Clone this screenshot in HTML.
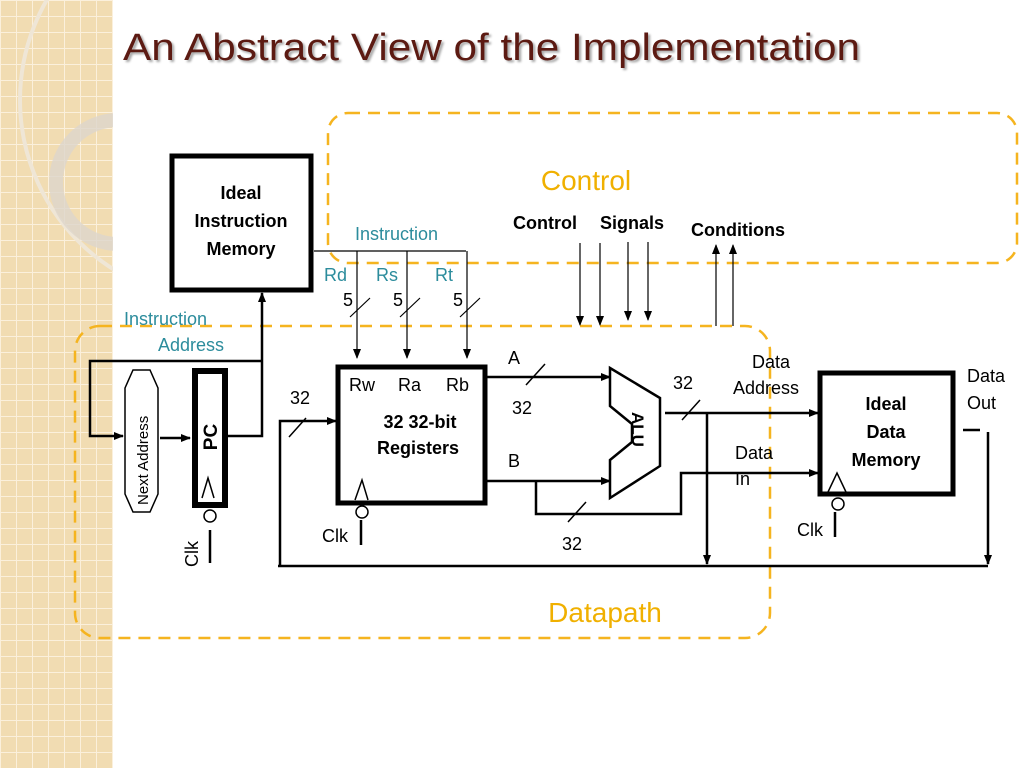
<!DOCTYPE html>
<html><head><meta charset="utf-8"><style>
body{margin:0;width:1024px;height:768px;overflow:hidden;background:#fff;font-family:"Liberation Sans",sans-serif}
</style></head><body>
<svg width="1024" height="768" viewBox="0 0 1024 768" xmlns="http://www.w3.org/2000/svg">
<defs>
<pattern id="g" width="16" height="16" patternUnits="userSpaceOnUse">
<rect width="16" height="16" fill="#f1dcb2"/><path d="M0 0H16M0 0V16" stroke="#fbf0dc" stroke-width="2"/></pattern>
<marker id="a" markerWidth="10" markerHeight="10" refX="9" refY="5" orient="auto" markerUnits="userSpaceOnUse"><path d="M0,1 L10,5 L0,9Z" fill="#000"/></marker>
</defs>
<rect x="0" y="0" width="113" height="768" fill="url(#g)"/>
<circle cx="220" cy="100" r="200" fill="none" stroke="#efe6d6" stroke-width="4"/>
<circle cx="118" cy="182" r="62" fill="none" stroke="#ddd6cc" stroke-width="14" opacity="0.8"/>
<rect x="113" y="0" width="911" height="768" fill="#fff"/>
<text x="123" y="60" font-size="38" fill="#5c1a12" textLength="737" lengthAdjust="spacingAndGlyphs" style="text-shadow:2px 2px 2px #aaa">An Abstract View of the Implementation</text>

<g fill="none" stroke="#f5b41f" stroke-width="2.5" stroke-dasharray="12,8">
<rect x="328" y="113" width="689" height="150" rx="20"/>
<rect x="75" y="326" width="695" height="312" rx="25"/>
</g>
<text x="586" y="190" font-size="28" fill="#f0b000" text-anchor="middle">Control</text>
<text x="605" y="622" font-size="28" fill="#f0b000" text-anchor="middle">Datapath</text>

<g stroke="#000" fill="none">
<rect x="172" y="156" width="139" height="134" stroke-width="5"/>
<rect x="338" y="367" width="147" height="136" stroke-width="5"/>
<rect x="820" y="373" width="133" height="121" stroke-width="5"/>
<rect x="195" y="371" width="30" height="134" stroke-width="6"/>
<path d="M125 388 L133 370 H150 L158 388 V494 L150 512 H133 L125 494Z" stroke-width="1.5"/>
<g stroke-width="1.2">
<path d="M314 251 H466"/>
<path d="M357 251 V358" marker-end="url(#a)"/><path d="M407 251 V358" marker-end="url(#a)"/><path d="M467 251 V358" marker-end="url(#a)"/>
<path d="M350 317 L370 298M400 317 L420 298M460 317 L480 298"/>
<path d="M580 243 V325" marker-end="url(#a)"/><path d="M600 243 V325" marker-end="url(#a)"/><path d="M628 242 V320" marker-end="url(#a)"/><path d="M648 242 V320" marker-end="url(#a)"/>
<path d="M716 326 V245" marker-end="url(#a)"/><path d="M733 326 V245" marker-end="url(#a)"/>
</g>
<g stroke-width="2.5">
<path d="M228 436 H262 V293" marker-end="url(#a)"/>
<path d="M262 361 H90 V436 H123" marker-end="url(#a)"/>
<path d="M160 438 H190" marker-end="url(#a)"/>
<path d="M280 566 V421 H336" marker-end="url(#a)"/>
<path d="M278 566 H988"/>
<path d="M485 377 H610" marker-end="url(#a)"/>
<path d="M485 481 H610" marker-end="url(#a)"/>
<path d="M536 481 V514 H681 V473 H818" marker-end="url(#a)"/>
<path d="M665 413 H818" marker-end="url(#a)"/>
<path d="M707 413 V564" marker-end="url(#a)"/>
<path d="M963 430 H980"/>
<path d="M988 432 V564" marker-end="url(#a)"/>
<path d="M610 368 L660 398 V466 L610 498 V460 L632 442 V424 L610 406Z"/>
<path d="M210 530 V563"/><path d="M361 520 V545"/><path d="M835 512 V537"/>
</g>
<g stroke-width="1.5">
<path d="M289 437 L306 418M526 385 L545 364M682 420 L700 400M568 522 L586 502"/>
<path d="M202 498 L208 478 L214 498M355 500 L362 480 L368 500M828 492 L837 473 L846 492"/>
<circle cx="210" cy="516" r="6"/><circle cx="362" cy="512" r="6"/><circle cx="838" cy="504" r="6"/>
</g>
</g>

<g font-size="18" font-weight="bold" text-anchor="middle">
<text x="241" y="199">Ideal</text><text x="241" y="227">Instruction</text><text x="241" y="255">Memory</text>
<text x="420" y="428">32 32-bit</text><text x="418" y="454">Registers</text>
<text x="886" y="410">Ideal</text><text x="886" y="438">Data</text><text x="886" y="466">Memory</text>
<text x="545" y="229">Control</text><text x="632" y="229">Signals</text><text x="738" y="236">Conditions</text>
<text transform="translate(217 437) rotate(-90)" font-size="19">PC</text>
</g>
<g font-size="18" fill="#2c8c9c">
<text x="355" y="240">Instruction</text>
<text x="124" y="325">Instruction</text><text x="158" y="351">Address</text>
<text x="324" y="281">Rd</text><text x="376" y="281">Rs</text><text x="435" y="281">Rt</text>
</g>
<g font-size="18">
<text x="343" y="306">5</text><text x="393" y="306">5</text><text x="453" y="306">5</text>
<text x="290" y="404">32</text><text x="512" y="414">32</text><text x="673" y="389">32</text><text x="562" y="550">32</text>
<text x="349" y="391">Rw</text><text x="398" y="391">Ra</text><text x="446" y="391">Rb</text>
<text x="508" y="364">A</text><text x="508" y="467">B</text>
<text x="752" y="368">Data</text><text x="733" y="394">Address</text>
<text x="735" y="459">Data</text><text x="735" y="485">In</text>
<text x="967" y="382">Data</text><text x="967" y="409">Out</text>
<text x="322" y="542">Clk</text><text x="797" y="536">Clk</text>
<text transform="translate(198 567) rotate(-90)">Clk</text>
<text transform="translate(148 505) rotate(-90)" font-size="15">Next Address</text>
<text transform="translate(632 412) rotate(90)" font-size="17" font-weight="bold">ALU</text>
</g>
</svg>
</body></html>
